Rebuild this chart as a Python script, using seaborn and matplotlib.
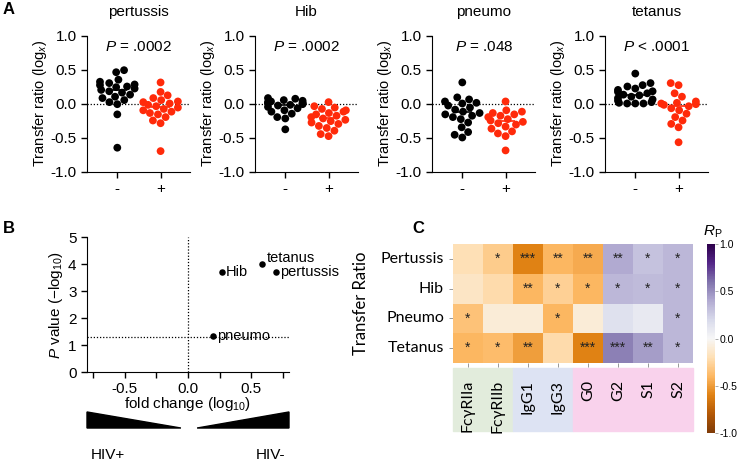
import numpy as np
import pandas as pd
import matplotlib
matplotlib.use("Agg")
import matplotlib.pyplot as plt
import matplotlib.transforms as mtransforms
from matplotlib.patches import Rectangle, Polygon
import seaborn as sns

# --- DATA ---
vaccines = ["pertussis", "Hib", "pneumo", "tetanus"]
p_texts = ["$P$ = .0002", "$P$ = .0002", "$P$ = .048", "$P$ < .0001"]

pertussis_neg = [0.49, 0.46, 0.35, 0.32, 0.30, 0.28, 0.27, 0.25, 0.24, 0.22, 0.20,
                 0.18, 0.16, 0.13, 0.10, 0.08, 0.05, 0.02, -0.01, -0.16, -0.65]
pertussis_pos = [0.31, 0.17, 0.12, 0.08, 0.05, 0.03, 0.02, 0.00, -0.02, -0.04,
                 -0.06, -0.08, -0.10, -0.12, -0.14, -0.16, -0.20, -0.25, -0.29, -0.70]
hib_neg = [0.08, 0.07, 0.05, 0.04, 0.03, 0.02, 0.01, 0.00, 0.00, -0.01, -0.02,
           -0.03, -0.05, -0.07, -0.10, -0.12, -0.15, -0.20, -0.22, -0.38]
hib_pos = [0.02, -0.04, -0.06, -0.08, -0.10, -0.12, -0.14, -0.16, -0.18, -0.20,
           -0.22, -0.24, -0.26, -0.28, -0.30, -0.33, -0.36, -0.40, -0.45, -0.48]
pneumo_neg = [0.31, 0.09, 0.06, 0.03, 0.01, 0.00, -0.03, -0.06, -0.09, -0.12,
              -0.14, -0.16, -0.18, -0.20, -0.23, -0.28, -0.35, -0.42, -0.46, -0.50]
pneumo_pos = [0.03, -0.10, -0.12, -0.14, -0.16, -0.18, -0.20, -0.23, -0.25, -0.27,
              -0.29, -0.31, -0.34, -0.37, -0.41, -0.44, -0.48, -0.69]
tetanus_neg = [0.44, 0.30, 0.27, 0.25, 0.22, 0.20, 0.18, 0.17, 0.15, 0.13, 0.12,
               0.10, 0.08, 0.06, 0.04, 0.02, 0.01, 0.00, 0.00, 0.00]
tetanus_pos = [0.30, 0.27, 0.15, 0.10, 0.03, 0.01, 0.00, -0.01, -0.02, -0.04,
               -0.07, -0.10, -0.15, -0.20, -0.25, -0.30, -0.35, -0.57]
groups_neg = [pertussis_neg, hib_neg, pneumo_neg, tetanus_neg]
groups_pos = [pertussis_pos, hib_pos, pneumo_pos, tetanus_pos]

# volcano panel
volc_names = ["Hib", "tetanus", "pertussis", "pneumo"]
volc_fc = [0.27, 0.59, 0.70, 0.20]
volc_p = [3.70, 4.00, 3.70, 1.32]

# heatmap panel
heat_rows = ["Pertussis", "Hib", "Pneumo", "Tetanus"]
heat_cols = ["FcγRIIa", "FcγRIIb", "IgG1", "IgG3", "G0", "G2", "S1", "S2"]
heat_vals = [
    [-0.20, -0.30, -0.60, -0.40, -0.45, 0.40, 0.30, 0.35],
    [-0.15, -0.22, -0.40, -0.28, -0.40, 0.35, 0.33, 0.35],
    [-0.35, -0.10, -0.10, -0.40, -0.10, 0.15, 0.10, 0.35],
    [-0.40, -0.38, -0.50, -0.22, -0.60, 0.55, 0.45, 0.35],
]
heat_stars = [
    ["", "*", "***", "**", "**", "**", "*", "*"],
    ["", "", "**", "*", "*", "*", "*", "*"],
    ["*", "", "", "*", "", "", "", "*"],
    ["*", "*", "**", "", "***", "***", "**", "*"],
]

# --- STYLE ---
sns.set_style("ticks")
plt.rcParams["font.family"] = ["Liberation Sans", "DejaVu Sans"]
plt.rcParams["axes.unicode_minus"] = False
plt.rcParams["mathtext.fontset"] = "custom"
plt.rcParams["mathtext.rm"] = "Liberation Sans"
plt.rcParams["mathtext.it"] = "Liberation Sans:italic"
for k in ["text.color", "axes.labelcolor", "xtick.color", "ytick.color", "axes.edgecolor"]:
    plt.rcParams[k] = "black"

W, H = 738, 461
fig = plt.figure(figsize=(W / 100, H / 100), dpi=100)


def px_axes(x0, x1, y0, y1):
    return fig.add_axes([x0 / W, 1 - y1 / H, (x1 - x0) / W, (y1 - y0) / H])


# --- PANEL A ---
lefts = [87, 255, 432, 605]
for i, name in enumerate(vaccines):
    ax = px_axes(lefts[i], lefts[i] + 103, 35.5, 171.5)
    df = pd.DataFrame({
        "grp": ["-"] * len(groups_neg[i]) + ["+"] * len(groups_pos[i]),
        "val": groups_neg[i] + groups_pos[i],
    })
    ax.axhline(0, color="black", ls=(0, (1, 1.5)), lw=0.9, zorder=1)
    sns.swarmplot(data=df, x="grp", y="val", hue="grp", order=["-", "+"],
                  palette={"-": "black", "+": "#ff2a0a"}, size=5.6,
                  linewidth=0, legend=False, warn_thresh=1, ax=ax, zorder=3)
    for j, vals in enumerate([groups_neg[i], groups_pos[i]]):
        ax.hlines(np.median(vals), j - 0.22, j + 0.22,
                  color="black" if j == 0 else "#ff2a0a", lw=1.2, zorder=2)
    ax.set_xlim(-0.7, 1.68)
    ax.set_ylim(-1, 1)
    ax.set_yticks([-1, -0.5, 0, 0.5, 1])
    ax.set_yticklabels(["-1.0", "-0.5", "0.0", "0.5", "1.0"])
    ax.tick_params(labelsize=11, length=4, width=1)
    ax.set_xlabel("")
    ax.set_ylabel("Transfer ratio (log$_x$)", fontsize=10.5, labelpad=1)
    sns.despine(ax=ax)
    ax.set_title(name, fontsize=11, pad=14)
    ax.text(0.5, 0.83, p_texts[i], fontsize=11, ha="center", va="center",
            transform=mtransforms.blended_transform_factory(ax.transData, ax.transData))

# --- PANEL B ---
axb = px_axes(87, 289, 237, 372)
axb.axhline(1.3, color="black", ls=(0, (1, 1.5)), lw=0.9, zorder=1)
axb.axvline(0, color="black", ls=(0, (1, 1.5)), lw=0.9, zorder=1)
sns.scatterplot(x=volc_fc, y=volc_p, color="black", s=22, linewidth=0, ax=axb, zorder=3)
for n, fx, py in zip(volc_names, volc_fc, volc_p):
    dy = 0.22 if n == "tetanus" else 0.0
    axb.text(fx + 0.03, py + dy, n, fontsize=10.5, va="center", ha="left")
axb.set_xlim(-0.8, 0.8)
axb.set_ylim(0, 5)
axb.set_xticks([-0.5, 0, 0.5])
axb.set_xticklabels(["-0.5", "0.0", "0.5"])
axb.set_xticks([-0.75, -0.25, 0.25, 0.75], minor=True)
axb.set_yticks(range(6))
axb.tick_params(labelsize=11, length=4, width=1)
axb.tick_params(which="minor", length=4, width=1)
axb.set_xlabel("fold change (log$_{10}$)", fontsize=11, labelpad=-1)
axb.set_ylabel("$P$ value (−log$_{10}$)", fontsize=11, labelpad=2)
sns.despine(ax=axb)
axb.add_patch(Polygon([(0, -0.296), (0.465, -0.415), (0, -0.415)], closed=True,
                      color="black", transform=axb.transAxes, clip_on=False))
axb.add_patch(Polygon([(0.545, -0.415), (1, -0.296), (1, -0.415)], closed=True,
                      color="black", transform=axb.transAxes, clip_on=False))
axb.text(0.104, -0.615, "HIV+", fontsize=11, ha="center", va="center", transform=axb.transAxes)
axb.text(0.91, -0.615, "HIV-", fontsize=11, ha="center", va="center", transform=axb.transAxes)

# --- PANEL C ---
axh = px_axes(453, 693, 244, 363)
cax = px_axes(707, 715, 244, 433)
hm = pd.DataFrame(heat_vals, index=heat_rows, columns=heat_cols)
sns.heatmap(hm, cmap="PuOr", vmin=-1, vmax=1, annot=np.array(heat_stars), fmt="",
            annot_kws={"fontsize": 10, "color": "#222222"}, cbar_ax=cax, ax=axh)
axh.tick_params(axis="both", length=3, width=0.6, color="#888888")
axh.set_yticklabels(heat_rows, rotation=0, fontsize=11.5, family="Lato")
axh.set_xticklabels(heat_cols, rotation=90, fontsize=11.5, family="Lato")
axh.tick_params(axis="x", pad=9)
axh.set_ylabel("Transfer Ratio", fontsize=12, family="Lato", labelpad=8)
box_tf = mtransforms.blended_transform_factory(axh.transData, axh.transAxes)
for x0, wdt, col in [(0, 2, "#e2ecdc"), (2, 2, "#dde3f3"), (4, 4, "#f9d2ec")]:
    axh.add_patch(Rectangle((x0, -0.571), wdt, 0.529, color=col, transform=box_tf,
                            clip_on=False, zorder=0))
cax.set_yticks([-1, -0.5, 0, 0.5, 1])
cax.set_yticklabels(["-1.0", "-0.5", "0.0", "0.5", "1.0"])
cax.tick_params(labelsize=7.5, length=2, width=0.5, color="#888888", pad=1)
fig.text(713 / W, 1 - 232 / H, "$R_\\mathrm{P}$", fontsize=11, ha="center", va="center")

# panel letters
fig.text(3 / W, 1 - 10 / H, "A", fontsize=12, fontweight="bold", va="center")
fig.text(3 / W, 1 - 228 / H, "B", fontsize=12, fontweight="bold", va="center")
fig.text(412 / W, 1 - 228 / H, "C", fontsize=12, fontweight="bold", va="center")

fig.savefig("out.png", dpi=100)
